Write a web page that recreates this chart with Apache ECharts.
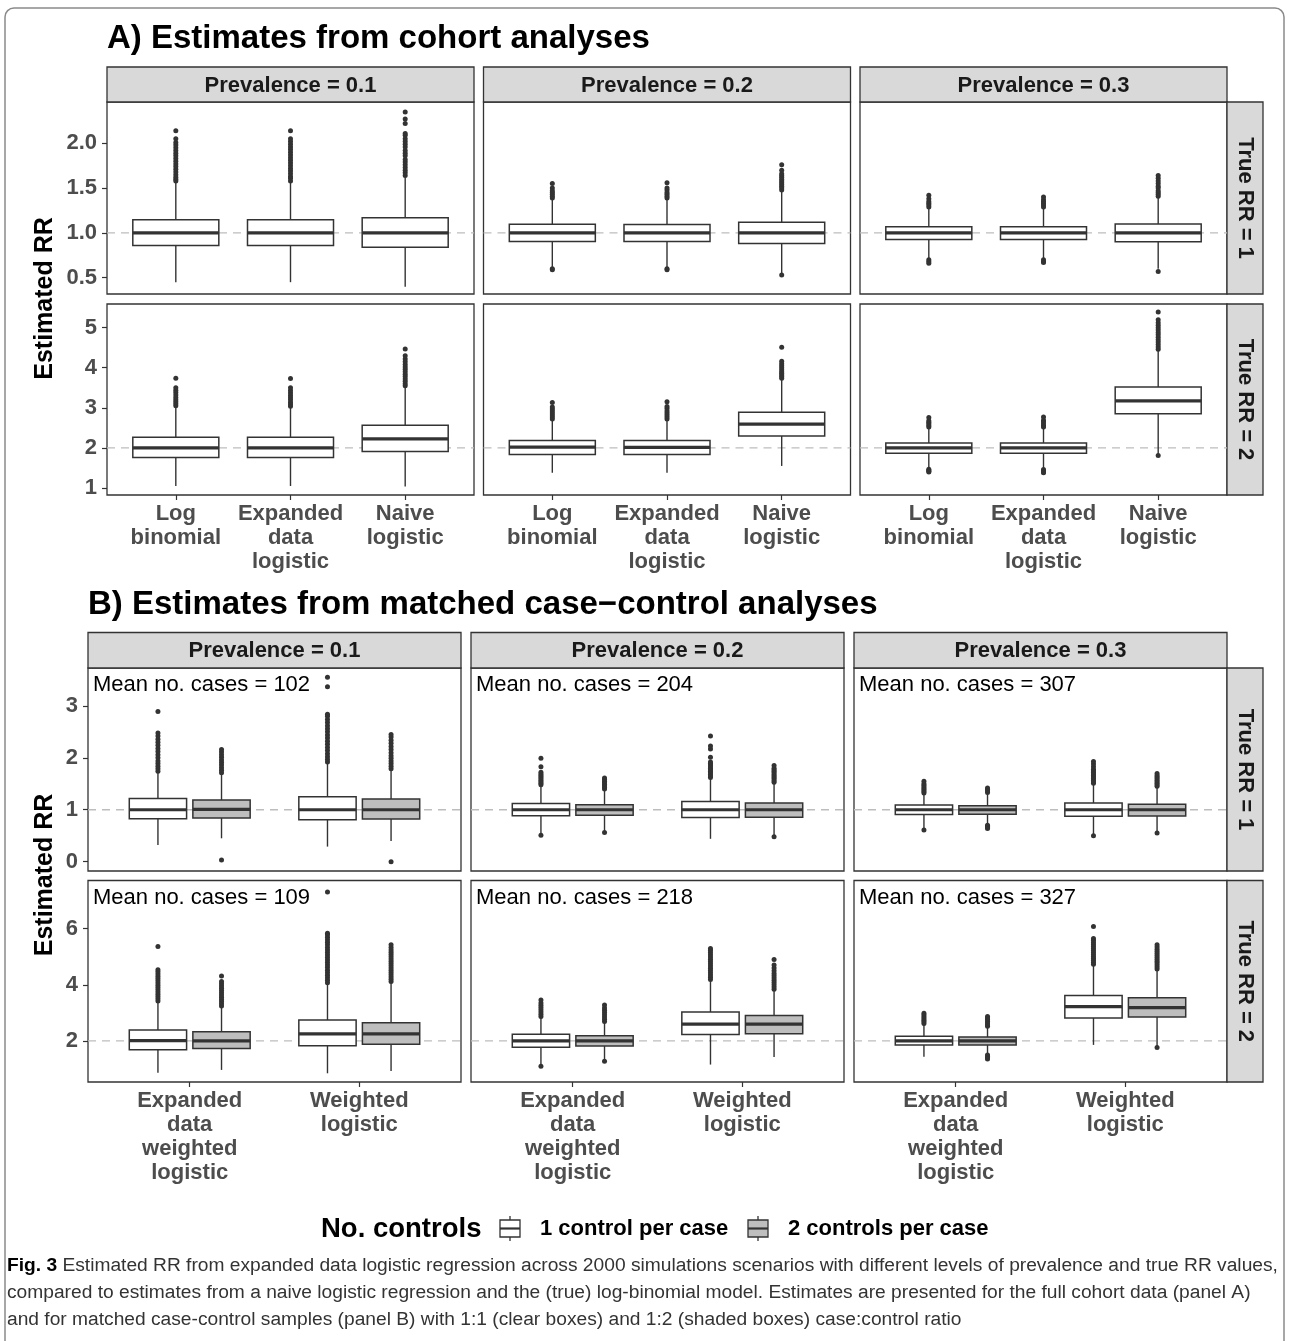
<!DOCTYPE html>
<html>
<head>
<meta charset="utf-8">
<script src="https://cdn.jsdelivr.net/npm/echarts@6/dist/echarts.min.js"></script>
<style>
html, body { margin: 0; padding: 0; background: #fff; }
#chart { width: 1289px; height: 1341px; }
</style>
</head>
<body>
<div id="chart"></div>
<script>
// ---------------- labels ----------------
const prevalenceLabels = ['Prevalence = 0.1', 'Prevalence = 0.2', 'Prevalence = 0.3'];
const trueRRLabels = ['True RR = 1', 'True RR = 2'];
const trueRRValues = [1, 2];
const cohortMethods = ['Log\nbinomial', 'Expanded\ndata\nlogistic', 'Naive\nlogistic'];
const ccMethods = ['Expanded\ndata\nweighted\nlogistic', 'Weighted\nlogistic'];
const controlLabels = ['1 control per case', '2 controls per case'];
const meanCasesRR1 = [102, 204, 307];
const meanCasesRR2 = [109, 218, 327];

// y tick labels per facet row
const cohortTicksRR1 = [0.5, 1.0, 1.5, 2.0];
const cohortTicksRR2 = [1, 2, 3, 4, 5];
const ccTicksRR1 = [0, 1, 2, 3];
const ccTicksRR2 = [2, 4, 6];

// ---------------- cohort analyses: [lower whisker, Q1, median, Q3, upper whisker] ----------------
const cohortBoxRR1P1 = [[0.45, 0.858, 1.0, 1.146, 1.57], [0.45, 0.858, 1.0, 1.146, 1.57], [0.40, 0.839, 1.0, 1.169, 1.62]];
const cohortBoxRR1P2 = [[0.62, 0.904, 1.0, 1.096, 1.38], [0.61, 0.905, 1.0, 1.095, 1.38], [0.55, 0.881, 1.0, 1.119, 1.47]];
const cohortBoxRR1P3 = [[0.72, 0.926, 1.0, 1.070, 1.28], [0.72, 0.927, 1.0, 1.069, 1.28], [0.60, 0.900, 1.0, 1.100, 1.40]];
const cohortBoxRR2P1 = [[1.05, 1.758, 2.0, 2.267, 3.03], [1.05, 1.760, 2.0, 2.265, 3.02], [1.04, 1.908, 2.225, 2.567, 3.52]];
const cohortBoxRR2P2 = [[1.38, 1.833, 2.017, 2.183, 2.70], [1.38, 1.834, 2.015, 2.184, 2.70], [1.55, 2.300, 2.592, 2.892, 3.72]];
const cohortBoxRR2P3 = [[1.49, 1.867, 2.0, 2.125, 2.51], [1.49, 1.867, 2.0, 2.125, 2.51], [1.85, 2.850, 3.175, 3.517, 4.43]];

// outlying estimates
const cohortOutRR1P1 = [
  [1.58, 1.60, 1.62, 1.65, 1.68, 1.71, 1.74, 1.77, 1.80, 1.83, 1.86, 1.89, 1.92, 1.95, 1.98, 2.01, 2.05, 2.14],
  [1.58, 1.61, 1.63, 1.66, 1.69, 1.72, 1.75, 1.78, 1.81, 1.84, 1.87, 1.90, 1.93, 1.96, 1.99, 2.02, 2.05, 2.14],
  [1.64, 1.67, 1.70, 1.73, 1.76, 1.79, 1.82, 1.86, 1.89, 1.92, 1.96, 1.99, 2.02, 2.05, 2.09, 2.11, 2.22, 2.27, 2.35]
];
const cohortOutRR1P2 = [
  [1.39, 1.41, 1.43, 1.45, 1.47, 1.50, 1.55, 0.60, 0.59],
  [1.39, 1.41, 1.43, 1.45, 1.48, 1.50, 1.56, 0.60, 0.59],
  [1.48, 1.50, 1.52, 1.54, 1.56, 1.58, 1.60, 1.62, 1.64, 1.66, 1.70, 1.76, 0.53]
];
const cohortOutRR1P3 = [
  [1.29, 1.31, 1.33, 1.35, 1.38, 1.42, 0.70, 0.68, 0.66],
  [1.29, 1.31, 1.33, 1.35, 1.37, 1.40, 0.70, 0.68, 0.67],
  [1.41, 1.43, 1.45, 1.47, 1.50, 1.52, 1.55, 1.58, 1.61, 1.64, 0.57]
];
const cohortOutRR2P1 = [
  [3.05, 3.10, 3.15, 3.20, 3.26, 3.32, 3.38, 3.44, 3.50, 3.74],
  [3.04, 3.09, 3.14, 3.20, 3.25, 3.31, 3.37, 3.43, 3.50, 3.73],
  [3.55, 3.60, 3.66, 3.72, 3.78, 3.84, 3.90, 3.96, 4.02, 4.08, 4.15, 4.22, 4.30, 4.47]
];
const cohortOutRR2P2 = [
  [2.72, 2.77, 2.82, 2.87, 2.92, 2.97, 3.02, 3.13],
  [2.72, 2.77, 2.82, 2.87, 2.92, 2.98, 3.03, 3.15],
  [3.74, 3.78, 3.82, 3.86, 3.90, 3.95, 4.00, 4.05, 4.10, 4.16, 4.51]
];
const cohortOutRR2P3 = [
  [2.52, 2.56, 2.60, 2.64, 2.68, 2.76, 1.47, 1.44, 1.42, 1.40],
  [2.52, 2.56, 2.60, 2.65, 2.69, 2.77, 1.46, 1.43, 1.40, 1.38],
  [4.46, 4.52, 4.58, 4.64, 4.70, 4.76, 4.82, 4.88, 4.94, 5.00, 5.06, 5.12, 5.20, 5.39, 1.81]
];

// ---------------- matched case-control analyses (One = 1 control, Two = 2 controls per case) ----------------
const ccBoxRR1P1One = [[0.32, 0.827, 1.0, 1.218, 1.73], [0.29, 0.807, 1.0, 1.250, 1.91]];
const ccBoxRR1P1Two = [[0.45, 0.840, 1.006, 1.186, 1.70], [0.40, 0.820, 1.0, 1.206, 1.78]];
const ccBoxRR1P2One = [[0.53, 0.882, 1.0, 1.118, 1.46], [0.44, 0.850, 1.0, 1.157, 1.61]];
const ccBoxRR1P2Two = [[0.59, 0.895, 1.0, 1.098, 1.39], [0.50, 0.856, 1.0, 1.130, 1.53]];
const ccBoxRR1P3One = [[0.65, 0.910, 1.0, 1.090, 1.30], [0.52, 0.876, 1.0, 1.130, 1.50]];
const ccBoxRR1P3Two = [[0.72, 0.915, 1.0, 1.078, 1.32], [0.57, 0.880, 1.0, 1.105, 1.44]];
const ccBoxRR2P1One = [[0.87, 1.690, 2.01, 2.390, 3.40], [0.85, 1.834, 2.25, 2.750, 4.05]];
const ccBoxRR2P1Two = [[0.97, 1.730, 2.00, 2.330, 3.22], [0.93, 1.880, 2.25, 2.650, 4.10]];
const ccBoxRR2P2One = [[1.12, 1.780, 2.00, 2.240, 2.85], [1.16, 2.230, 2.60, 3.030, 4.17]];
const ccBoxRR2P2Two = [[1.30, 1.820, 2.00, 2.190, 2.67], [1.43, 2.260, 2.60, 2.910, 3.82]];
const ccBoxRR2P3One = [[1.44, 1.858, 2.00, 2.166, 2.60], [1.86, 2.820, 3.22, 3.614, 4.70]];
const ccBoxRR2P3Two = [[1.52, 1.858, 2.00, 2.140, 2.50], [1.80, 2.855, 3.19, 3.540, 4.53]];

const ccOutRR1P1One = [
  [1.74, 1.79, 1.84, 1.89, 1.94, 2.00, 2.06, 2.12, 2.18, 2.24, 2.30, 2.36, 2.42, 2.48, 2.89],
  [1.92, 1.97, 2.02, 2.08, 2.14, 2.20, 2.26, 2.32, 2.38, 2.44, 2.50, 2.56, 2.62, 2.68, 2.74, 2.80, 2.84, 3.37, 3.55]
];
const ccOutRR1P1Two = [
  [1.71, 1.76, 1.81, 1.86, 1.91, 1.96, 2.01, 2.06, 2.11, 2.16, 0.03],
  [1.79, 1.84, 1.89, 1.94, 1.99, 2.04, 2.10, 2.16, 2.22, 2.28, 2.34, 2.40, 2.45, 0.0]
];
const ccOutRR1P2One = [
  [1.48, 1.51, 1.54, 1.57, 1.60, 1.63, 1.66, 1.69, 1.72, 1.83, 1.99, 0.51],
  [1.62, 1.65, 1.68, 1.71, 1.74, 1.77, 1.80, 1.83, 1.86, 1.89, 1.92, 2.01, 2.17, 2.23, 2.42]
];
const ccOutRR1P2Two = [
  [1.40, 1.43, 1.46, 1.49, 1.52, 1.55, 1.58, 1.61, 0.56],
  [1.53, 1.56, 1.59, 1.62, 1.65, 1.68, 1.71, 1.74, 1.77, 1.80, 1.85, 0.48]
];
const ccOutRR1P3One = [
  [1.32, 1.35, 1.38, 1.41, 1.44, 1.47, 1.50, 1.55, 0.61],
  [1.51, 1.54, 1.57, 1.60, 1.63, 1.66, 1.69, 1.72, 1.75, 1.78, 1.83, 1.88, 1.93, 0.50]
];
const ccOutRR1P3Two = [
  [1.33, 1.36, 1.39, 1.42, 0.70, 0.68, 0.66, 0.64],
  [1.45, 1.48, 1.51, 1.54, 1.57, 1.60, 1.63, 1.66, 1.70, 0.55]
];
const ccOutRR2P1One = [
  [3.42, 3.50, 3.58, 3.66, 3.74, 3.82, 3.90, 3.98, 4.06, 4.14, 4.22, 4.30, 4.38, 4.46, 4.53, 5.36],
  [4.07, 4.16, 4.25, 4.34, 4.43, 4.52, 4.61, 4.70, 4.79, 4.88, 4.97, 5.06, 5.15, 5.24, 5.33, 5.42, 5.51, 5.60, 5.69, 5.78, 5.83, 7.30]
];
const ccOutRR2P1Two = [
  [3.24, 3.32, 3.40, 3.48, 3.56, 3.64, 3.72, 3.80, 3.88, 3.96, 4.04, 4.12, 4.31],
  [4.12, 4.20, 4.28, 4.36, 4.44, 4.52, 4.60, 4.68, 4.76, 4.84, 4.92, 5.00, 5.08, 5.16, 5.24, 5.33, 5.42]
];
const ccOutRR2P2One = [
  [2.87, 2.95, 3.03, 3.11, 3.19, 3.27, 3.35, 3.46, 1.10],
  [4.19, 4.27, 4.35, 4.43, 4.51, 4.59, 4.67, 4.75, 4.83, 4.91, 4.99, 5.07, 5.15, 5.23, 5.29]
];
const ccOutRR2P2Two = [
  [2.69, 2.77, 2.85, 2.93, 3.01, 3.09, 3.17, 3.28, 1.28],
  [3.84, 3.92, 4.00, 4.08, 4.16, 4.24, 4.32, 4.40, 4.50, 4.60, 4.70, 4.90]
];
const ccOutRR2P3One = [
  [2.62, 2.68, 2.74, 2.80, 2.86, 2.92, 2.99],
  [4.73, 4.80, 4.87, 4.94, 5.01, 5.08, 5.15, 5.22, 5.29, 5.36, 5.43, 5.50, 5.58, 5.65, 6.07]
];
const ccOutRR2P3Two = [
  [2.52, 2.58, 2.64, 2.70, 2.76, 2.82, 2.87, 1.50, 1.45, 1.40, 1.36],
  [4.56, 4.63, 4.70, 4.77, 4.84, 4.91, 4.98, 5.05, 5.12, 5.19, 5.26, 5.34, 5.42, 1.77]
];

// ---------------- layout & style ----------------
const FONT = '"Liberation Sans", Arial, Helvetica, sans-serif';
const NARROW = '"Liberation Sans Narrow", "Arial Narrow", "Liberation Sans", sans-serif';
const INK = '#333333';
const AXIS_TEXT = '#4d4d4d';
const STRIP_FILL = '#d9d9d9';
const FILL_ONE = '#ffffff';
const FILL_TWO = '#bebebe';

const cohortLayout = { lefts: [107, 483.5, 860], width: 367, tops: [102, 304], heights: [192, 191], stripTop: 67 };
const ccLayout = { lefts: [88, 471, 854], width: 373, tops: [668, 880.5], heights: [203, 201.5], stripTop: 632.5 };
const cohortYRange = [[0.318, 2.461], [0.825, 5.59]];
const ccYRange = [[-0.18, 3.73], [0.54, 7.71]];

const grids = [], xAxes = [], yAxes = [], series = [], graphics = [];

function makeBoxRenderer(half, fill) {
  return function (params, api) {
    const x = api.value(0);
    const lo = api.coord([x, api.value(1)]);
    const q1 = api.coord([x + half, api.value(2)]);
    const md = api.coord([x, api.value(3)]);
    const q3 = api.coord([x - half, api.value(4)]);
    const hi = api.coord([x, api.value(5)]);
    return {
      type: 'group',
      children: [
        { type: 'line', shape: { x1: lo[0], y1: lo[1], x2: hi[0], y2: hi[1] }, style: { stroke: INK, lineWidth: 1.4 } },
        { type: 'rect', shape: { x: q3[0], y: q3[1], width: q1[0] - q3[0], height: q1[1] - q3[1] },
          style: { fill: fill, stroke: INK, lineWidth: 1.5 } },
        { type: 'line', shape: { x1: q3[0], y1: md[1], x2: q1[0], y2: md[1] }, style: { stroke: INK, lineWidth: 3.2 } }
      ]
    };
  };
}

function addPanel(p) {
  const idx = grids.length;
  const n = p.cats.length;
  const catPos = p.cats.map((c, i) => i + 1);
  grids.push({ left: p.left, top: p.top, width: p.width, height: p.height, show: true,
    borderColor: INK, borderWidth: 1.3, backgroundColor: '#fff' });
  xAxes.push({
    gridIndex: idx, type: 'value', min: 0.4, max: n + 0.6,
    axisLine: { show: false }, splitLine: { show: false },
    axisTick: { show: p.showX, length: 5, lineStyle: { color: INK, width: 1.2 }, customValues: catPos },
    axisLabel: { show: p.showX, customValues: catPos, formatter: v => p.cats[Math.round(v) - 1],
      fontFamily: FONT, fontWeight: 'bold', fontSize: 22, lineHeight: 24, color: AXIS_TEXT, margin: 7 }
  });
  yAxes.push({
    gridIndex: idx, type: 'value', min: p.yRange[0], max: p.yRange[1],
    axisLine: { show: false }, splitLine: { show: false },
    axisTick: { show: p.showY, length: 5, lineStyle: { color: INK, width: 1.2 }, customValues: p.yTicks },
    axisLabel: { show: p.showY, customValues: p.yTicks, formatter: p.yFmt,
      fontFamily: FONT, fontWeight: 'bold', fontSize: 22, color: AXIS_TEXT, margin: 10 }
  });
  series.push({ type: 'line', xAxisIndex: idx, yAxisIndex: idx, silent: true, symbol: 'none', z: 1,
    data: [[0.4, p.ref], [n + 0.6, p.ref]], lineStyle: { color: '#bdbdbd', width: 1.3, type: [8, 6] } });
  p.groups.forEach(g => {
    series.push({ type: 'custom', xAxisIndex: idx, yAxisIndex: idx, silent: true, z: 2,
      data: g.boxes.map((b, i) => [i + 1 + g.offset, ...b]), renderItem: makeBoxRenderer(g.half, g.fill) });
    const pts = [];
    g.outs.forEach((list, i) => list.forEach(v => pts.push([i + 1 + g.offset, v])));
    series.push({ type: 'scatter', xAxisIndex: idx, yAxisIndex: idx, silent: true, z: 3,
      data: pts, symbolSize: 5, itemStyle: { color: INK, opacity: 1 } });
  });
  if (p.note) {
    graphics.push({ type: 'text', x: p.left + 5, y: p.top + 17,
      style: { text: p.note, font: '22px ' + FONT, fill: '#000', verticalAlign: 'middle' } });
  }
}

function addStrips(layout) {
  layout.lefts.forEach((l, c) => {
    const h = layout.tops[0] - layout.stripTop;
    graphics.push({ type: 'rect', shape: { x: l, y: layout.stripTop, width: layout.width, height: h },
      style: { fill: STRIP_FILL, stroke: INK, lineWidth: 1.3 } });
    graphics.push({ type: 'text', x: l + layout.width / 2, y: layout.stripTop + h / 2 + 1,
      style: { text: prevalenceLabels[c], font: 'bold 22px ' + FONT, fill: '#1a1a1a', align: 'center', verticalAlign: 'middle' } });
  });
  const rx = layout.lefts[2] + layout.width;
  layout.tops.forEach((t, r) => {
    graphics.push({ type: 'rect', shape: { x: rx, y: t, width: 36, height: layout.heights[r] },
      style: { fill: STRIP_FILL, stroke: INK, lineWidth: 1.3 } });
    graphics.push({ type: 'text', x: rx + 18, y: t + layout.heights[r] / 2, rotation: -Math.PI / 2,
      style: { text: trueRRLabels[r], font: 'bold 22px ' + FONT, fill: '#1a1a1a', align: 'center', verticalAlign: 'middle' } });
  });
}

// cohort facets
const cohortBoxes = [[cohortBoxRR1P1, cohortBoxRR1P2, cohortBoxRR1P3], [cohortBoxRR2P1, cohortBoxRR2P2, cohortBoxRR2P3]];
const cohortOuts = [[cohortOutRR1P1, cohortOutRR1P2, cohortOutRR1P3], [cohortOutRR2P1, cohortOutRR2P2, cohortOutRR2P3]];
const cohortTicks = [cohortTicksRR1, cohortTicksRR2];
const cohortFmt = [v => v.toFixed(1), v => String(v)];
for (let r = 0; r < 2; r++) {
  for (let c = 0; c < 3; c++) {
    addPanel({
      left: cohortLayout.lefts[c], top: cohortLayout.tops[r], width: cohortLayout.width, height: cohortLayout.heights[r],
      cats: cohortMethods, yRange: cohortYRange[r], yTicks: cohortTicks[r], yFmt: cohortFmt[r],
      showX: r === 1, showY: c === 0, ref: trueRRValues[r],
      groups: [{ boxes: cohortBoxes[r][c], outs: cohortOuts[r][c], offset: 0, half: 0.375, fill: FILL_ONE }]
    });
  }
}

// matched case-control facets
const ccBoxesOne = [[ccBoxRR1P1One, ccBoxRR1P2One, ccBoxRR1P3One], [ccBoxRR2P1One, ccBoxRR2P2One, ccBoxRR2P3One]];
const ccBoxesTwo = [[ccBoxRR1P1Two, ccBoxRR1P2Two, ccBoxRR1P3Two], [ccBoxRR2P1Two, ccBoxRR2P2Two, ccBoxRR2P3Two]];
const ccOutsOne = [[ccOutRR1P1One, ccOutRR1P2One, ccOutRR1P3One], [ccOutRR2P1One, ccOutRR2P2One, ccOutRR2P3One]];
const ccOutsTwo = [[ccOutRR1P1Two, ccOutRR1P2Two, ccOutRR1P3Two], [ccOutRR2P1Two, ccOutRR2P2Two, ccOutRR2P3Two]];
const ccTicks = [ccTicksRR1, ccTicksRR2];
const meanCases = [meanCasesRR1, meanCasesRR2];
for (let r = 0; r < 2; r++) {
  for (let c = 0; c < 3; c++) {
    addPanel({
      left: ccLayout.lefts[c], top: ccLayout.tops[r], width: ccLayout.width, height: ccLayout.heights[r],
      cats: ccMethods, yRange: ccYRange[r], yTicks: ccTicks[r], yFmt: v => String(v),
      showX: r === 1, showY: c === 0, ref: trueRRValues[r],
      note: 'Mean no. cases = ' + meanCases[r][c],
      groups: [
        { boxes: ccBoxesOne[r][c], outs: ccOutsOne[r][c], offset: -0.1875, half: 0.169, fill: FILL_ONE },
        { boxes: ccBoxesTwo[r][c], outs: ccOutsTwo[r][c], offset: 0.1875, half: 0.169, fill: FILL_TWO }
      ]
    });
  }
}

addStrips(cohortLayout);
addStrips(ccLayout);

// frame around the whole figure
graphics.unshift({ type: 'rect', shape: { x: 5, y: 8, width: 1279, height: 1350, r: 9 }, z: -10,
  style: { fill: 'none', stroke: '#8a8a8a', lineWidth: 1.5 } });

// section titles and axis titles
graphics.push({ type: 'text', x: 107, y: 39, style: { text: 'A) Estimates from cohort analyses', font: 'bold 33px ' + FONT, fill: '#000', verticalAlign: 'middle' } });
graphics.push({ type: 'text', x: 88, y: 605, style: { text: 'B) Estimates from matched case\u2212control analyses', font: 'bold 33px ' + FONT, fill: '#000', verticalAlign: 'middle' } });
graphics.push({ type: 'text', x: 45, y: 298.5, rotation: Math.PI / 2, style: { text: 'Estimated RR', font: 'bold 25px ' + FONT, fill: '#000', align: 'center', verticalAlign: 'middle' } });
graphics.push({ type: 'text', x: 45, y: 875, rotation: Math.PI / 2, style: { text: 'Estimated RR', font: 'bold 25px ' + FONT, fill: '#000', align: 'center', verticalAlign: 'middle' } });

// legend for number of controls
function legendKey(cx, fill) {
  graphics.push({ type: 'line', shape: { x1: cx, y1: 1216, x2: cx, y2: 1241 }, style: { stroke: INK, lineWidth: 1.3 } });
  graphics.push({ type: 'rect', shape: { x: cx - 10, y: 1220, width: 20, height: 17 }, style: { fill: fill, stroke: INK, lineWidth: 1.3 } });
  graphics.push({ type: 'line', shape: { x1: cx - 10, y1: 1228.5, x2: cx + 10, y2: 1228.5 }, style: { stroke: INK, lineWidth: 2.2 } });
}
graphics.push({ type: 'text', x: 321, y: 1229, style: { text: 'No. controls', font: 'bold 27.5px ' + FONT, fill: '#000', verticalAlign: 'middle' } });
legendKey(510, FILL_ONE);
graphics.push({ type: 'text', x: 540, y: 1229, style: { text: controlLabels[0], font: 'bold 22px ' + FONT, fill: '#000', verticalAlign: 'middle' } });
legendKey(758, FILL_TWO);
graphics.push({ type: 'text', x: 788, y: 1229, style: { text: controlLabels[1], font: 'bold 22px ' + FONT, fill: '#000', verticalAlign: 'middle' } });

// figure caption
const captionLines = [
  '{b|Fig. 3} Estimated RR from expanded data logistic regression across 2000 simulations scenarios with different levels of prevalence and true RR values,',
  'compared to estimates from a naive logistic regression and the (true) log-binomial model. Estimates are presented for the full cohort data (panel A)',
  'and for matched case-control samples (panel B) with 1:1 (clear boxes) and 1:2 (shaded boxes) case:control ratio'
];
captionLines.forEach((t, i) => {
  graphics.push({ type: 'text', x: 7, y: 1266 + i * 27,
    style: { text: t, font: '19.2px ' + NARROW, fill: '#333', verticalAlign: 'middle',
      rich: { b: { font: 'bold 19.2px ' + NARROW, fill: '#000' } } } });
});

const chart = echarts.init(document.getElementById('chart'), null, { renderer: 'canvas' });
chart.setOption({
  animation: false,
  backgroundColor: '#fff',
  grid: grids,
  xAxis: xAxes,
  yAxis: yAxes,
  series: series,
  graphic: { elements: graphics }
});
</script>
</body>
</html>
